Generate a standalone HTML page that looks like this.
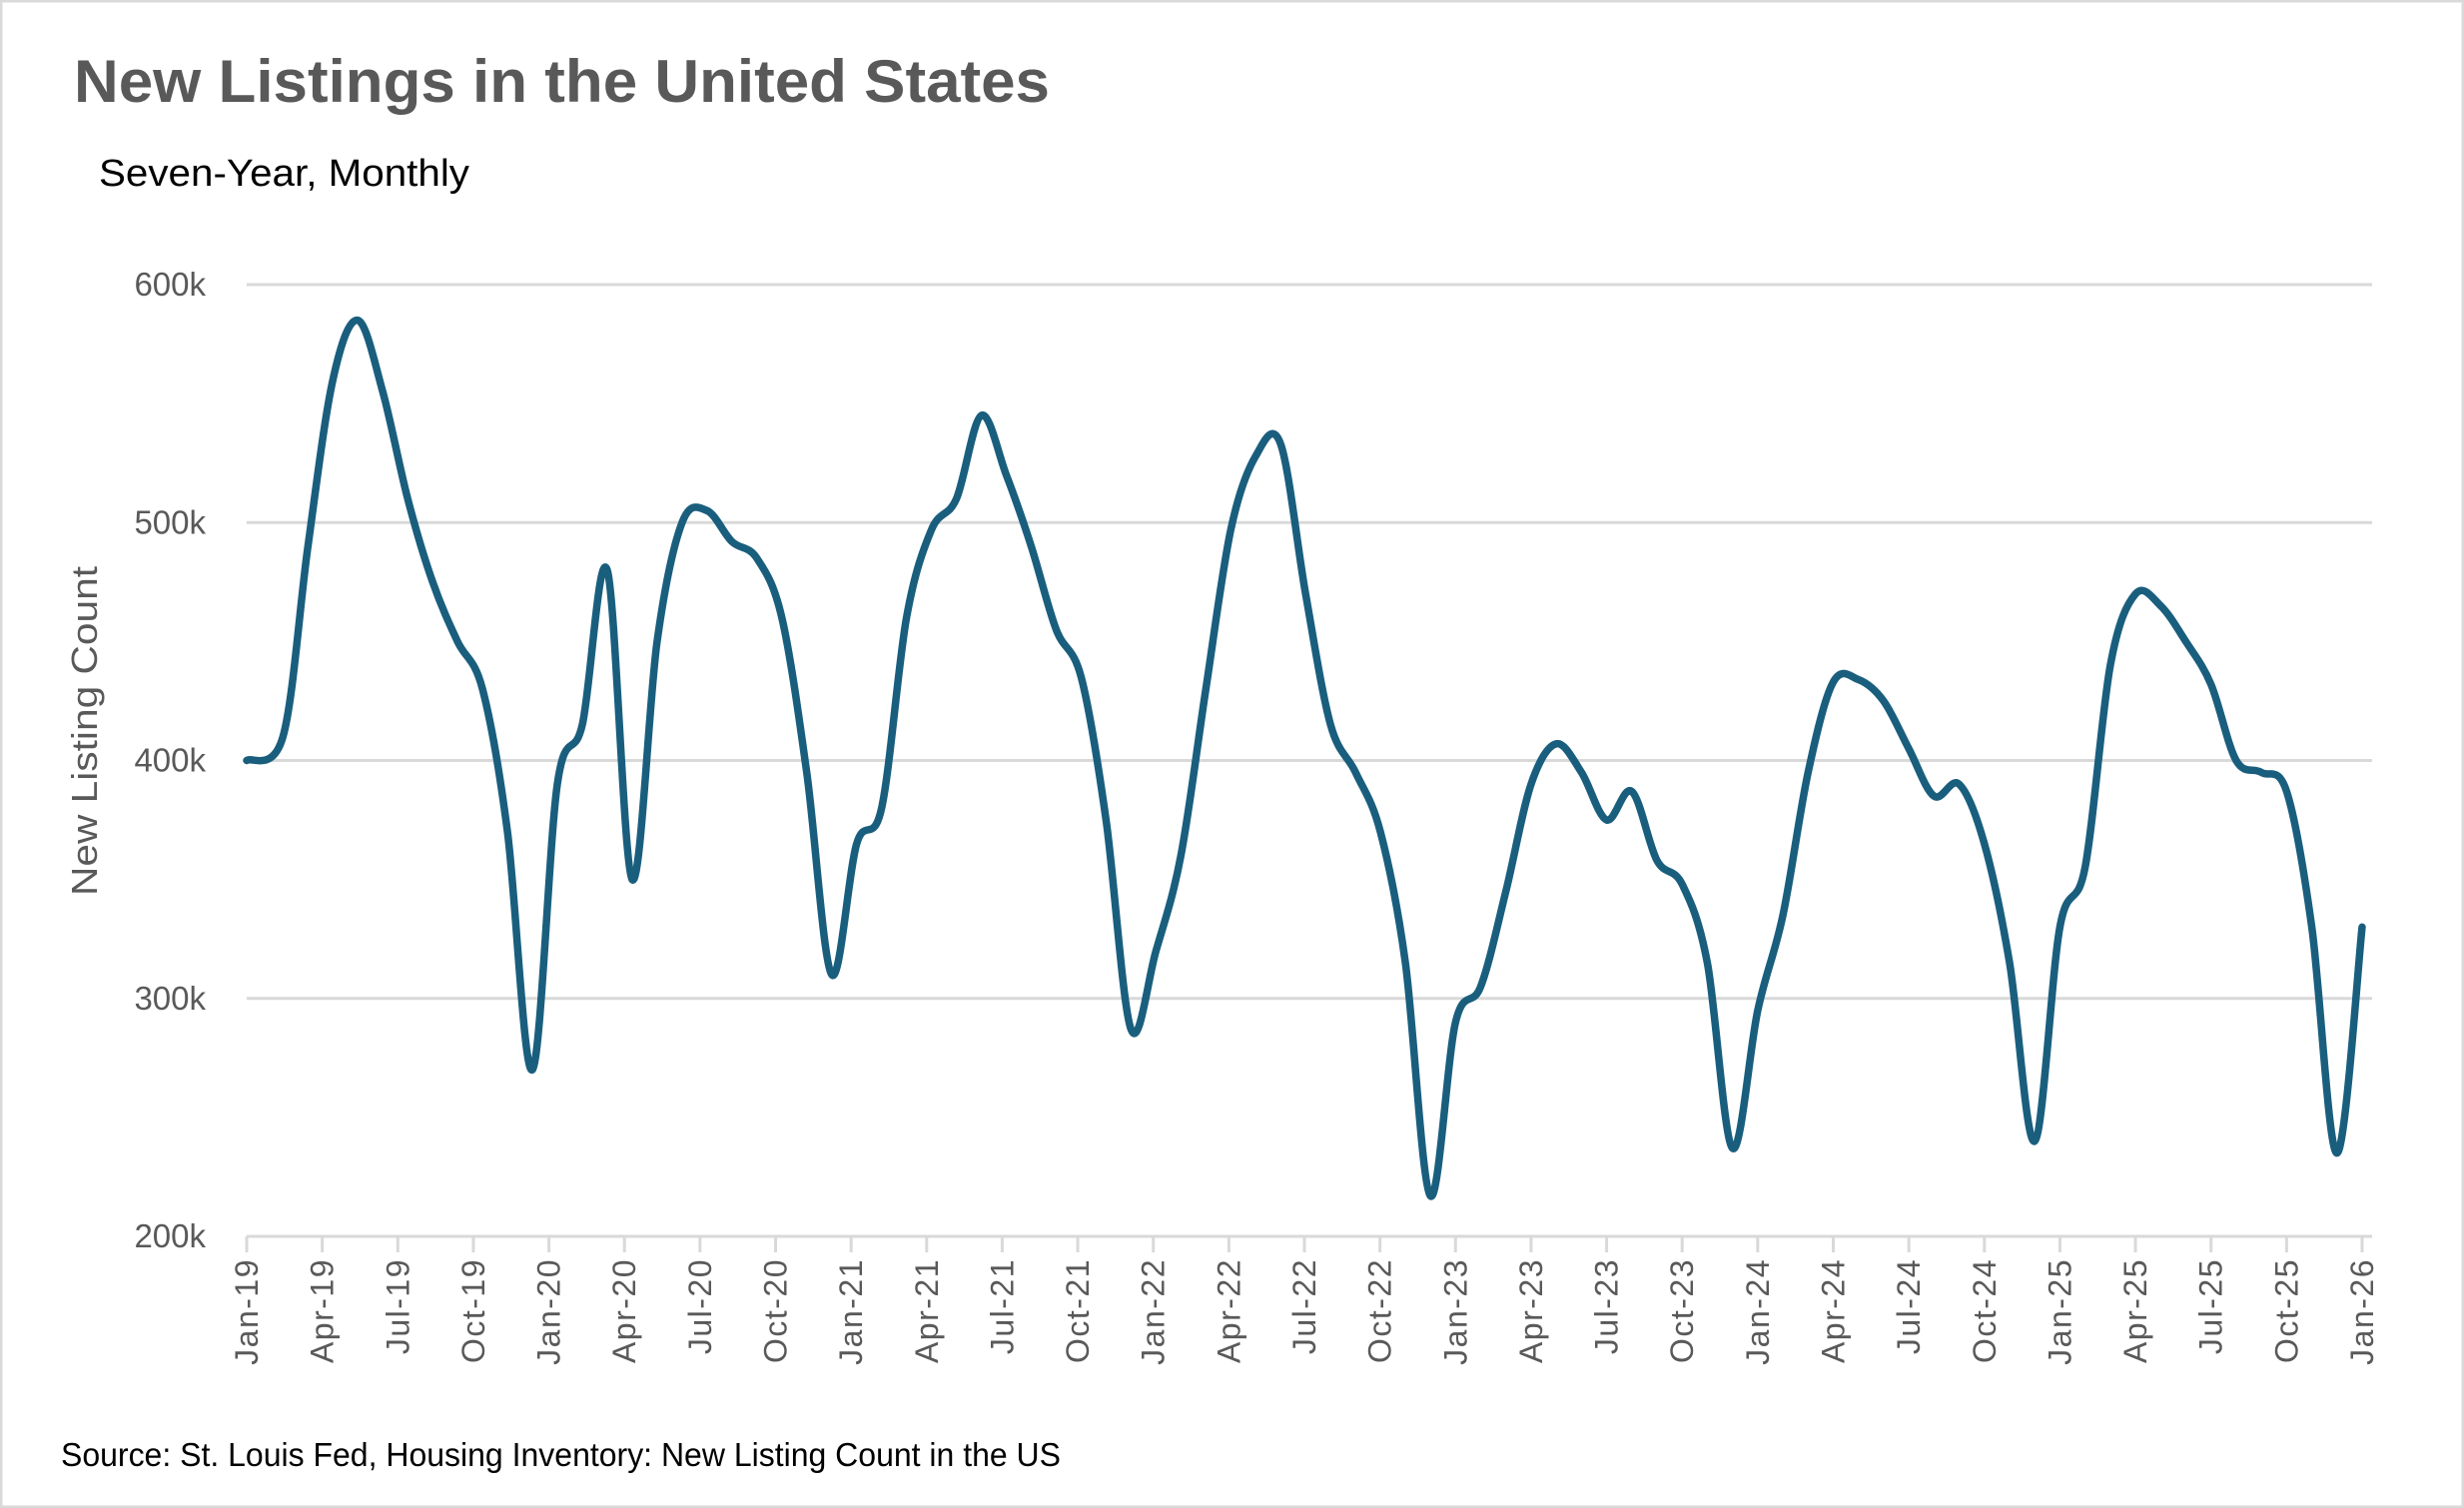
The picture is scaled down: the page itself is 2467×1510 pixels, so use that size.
<!DOCTYPE html>
<html><head><meta charset="utf-8"><style>
html,body{margin:0;padding:0;background:#fff}
svg{display:block}
text{font-family:"Liberation Sans",sans-serif}
</style></head><body>
<svg id="c" width="2467" height="1510" viewBox="0 0 2467 1510" xmlns="http://www.w3.org/2000/svg">
<rect x="1" y="1" width="2465" height="1508" fill="#fff" stroke="#d9d9d9" stroke-width="3"/>
<text x="74" y="102" font-size="60" font-weight="bold" fill="#595959" textLength="977" lengthAdjust="spacingAndGlyphs">New Listings in the United States</text>
<text x="99" y="186" font-size="38" fill="#000" textLength="371" lengthAdjust="spacingAndGlyphs">Seven-Year, Monthly</text>
<g id="grid" stroke="#d9d9d9" stroke-width="3"></g>
<g id="ylab" font-size="33" fill="#595959" text-anchor="end"></g>
<text transform="translate(97,732) rotate(-90)" font-size="36" fill="#595959" text-anchor="middle" textLength="330" lengthAdjust="spacingAndGlyphs">New Listing Count</text>
<g id="xt" stroke="#d9d9d9" stroke-width="3"></g>
<g id="xlab" font-size="32" fill="#595959" text-anchor="end" letter-spacing="1.5"></g>
<path id="ln" fill="none" stroke="#1a5e7e" stroke-width="7.5" stroke-linejoin="round" stroke-linecap="round"/>
<text x="61" y="1468" font-size="33" fill="#000" textLength="1001" lengthAdjust="spacingAndGlyphs">Source: St. Louis Fed, Housing Inventory: New Listing Count in the US</text>
</svg>
<script>
var NS="http://www.w3.org/2000/svg";
function el(p,t,a,txt){var e=document.createElementNS(NS,t);for(var k in a)e.setAttribute(k,a[k]);if(txt)e.textContent=txt;document.getElementById(p).appendChild(e);return e;}
var x0=247,x1=2365,yT=285,yB=1238;
function Y(v){return yB-(v-200)*(yB-yT)/400;}
function X(m){return x0+m*(x1-x0)/84;}
for(var v=200;v<=600;v+=100){
 if(v>200)el("grid","line",{x1:x0,x2:2375,y1:Y(v),y2:Y(v)});
 el("ylab","text",{x:206,y:Y(v)+11},v+"k");
}
el("grid","line",{x1:x0,x2:2375,y1:yB,y2:yB});
var mn=["Jan","Apr","Jul","Oct"];
for(var m=0;m<=84;m+=3){
 var x=X(m);
 el("xt","line",{x1:x,x2:x,y1:yB,y2:yB+16});
 var lab=mn[(m/3)%4]+"-"+(19+Math.floor(m/12));
 el("xlab","text",{transform:"translate("+(x+11)+","+(yB+22)+") rotate(-90)"},lab);
}
var d=[400,410,490,560,585,555,510,475,450,430,370,270,
390,415,480,350,450,500,505,492,485,460,395,310,
365,380,460,497,510,545,520,490,455,435,375,287,
320,360,430,497,528,533,470,415,395,370,315,217,
290,305,345,390,407,395,375,387,358,348,315,237,
295,335,395,433,434,425,405,385,390,365,315,240,
330,355,440,470,465,450,432,400,395,387,330,235,330];
var P=d.map(function(v,i){var sh=(i>0&&i<47)?0.45*(1-i/47):0;return [X(i+sh),Y(v)];});
var s="M"+P[0][0].toFixed(1)+","+P[0][1].toFixed(1);
for(var i=0;i<P.length-1;i++){
 var p0=P[i>0?i-1:i],p1=P[i],p2=P[i+1],p3=P[i+2<P.length?i+2:i+1];
 var c1=[p1[0]+(p2[0]-p0[0])/6,p1[1]+(p2[1]-p0[1])/6];
 var c2=[p2[0]-(p3[0]-p1[0])/6,p2[1]-(p3[1]-p1[1])/6];
 s+="C"+c1[0].toFixed(1)+","+c1[1].toFixed(1)+" "+c2[0].toFixed(1)+","+c2[1].toFixed(1)+" "+p2[0].toFixed(1)+","+p2[1].toFixed(1);
}
document.getElementById("ln").setAttribute("d",s);
</script>
</body></html>
